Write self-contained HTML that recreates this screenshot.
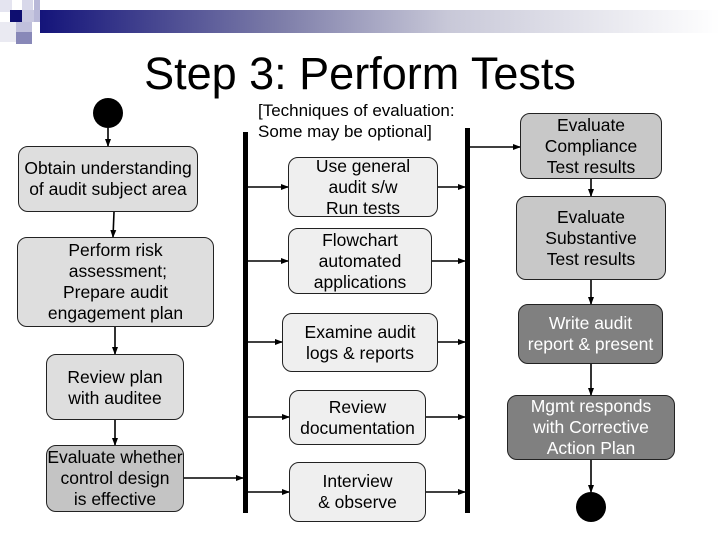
<!DOCTYPE html>
<html><head><style>
body{margin:0;width:720px;height:540px;background:#fff;position:relative;overflow:hidden;font-family:"Liberation Sans",Arial,sans-serif}
.b{position:absolute;border:1px solid #222;border-radius:10px;display:flex;align-items:center;justify-content:center;text-align:center;font-size:17.5px;line-height:21px;color:#000;box-sizing:border-box;background:#dedede;white-space:nowrap}
.m{background:#efefef}
.s{position:absolute}
</style></head><body>
<div class="s" style="left:40px;top:10px;width:680px;height:23px;background:linear-gradient(to right,#14147a,#7c7ca8 35%,#c8c8d8 60%,#fff 100%)"></div>
<div class="s" style="left:0;top:0;width:12px;height:12px;background:#e4e4f0"></div>
<div class="s" style="left:22px;top:0;width:11px;height:10px;background:#d8d8ea"></div>
<div class="s" style="left:10px;top:10px;width:12px;height:12px;background:#0e0e70"></div>
<div class="s" style="left:22px;top:10px;width:12px;height:12px;background:#c8c8e0"></div>
<div class="s" style="left:34px;top:0;width:6px;height:22px;background:#b8b8d8"></div>
<div class="s" style="left:0;top:22px;width:16px;height:20px;background:#eaeaf2"></div>
<div class="s" style="left:16px;top:22px;width:16px;height:10px;background:#c0c0dc"></div>
<div class="s" style="left:16px;top:32px;width:16px;height:12px;background:#8888b8"></div>
<div class="s" style="left:0;top:48px;width:720px;text-align:center;font-size:45px;line-height:52px">Step 3: Perform Tests</div>
<div class="s" style="left:258px;top:100px;font-size:17px;line-height:21px">[Techniques of evaluation:<br>Some may be optional]</div>
<svg class="s" style="left:0;top:0" width="720" height="540">
<defs><marker id="a" markerWidth="8" markerHeight="8" refX="7" refY="4" orient="auto" markerUnits="userSpaceOnUse"><path d="M0,1 L8,4 L0,7z" fill="#000"/></marker></defs>
<circle cx="108" cy="113" r="15" fill="#000"/>
<circle cx="591" cy="507" r="15" fill="#000"/>
<rect x="243" y="132" width="5" height="381" fill="#000"/>
<rect x="465" y="128" width="5" height="385" fill="#000"/>
<g stroke="#000" stroke-width="1.6" fill="none" marker-end="url(#a)">
<line x1="108" y1="128" x2="108" y2="146"/>
<line x1="114" y1="212" x2="113" y2="237"/>
<line x1="115" y1="327" x2="115" y2="354"/>
<line x1="115" y1="420" x2="115" y2="445"/>
<line x1="184" y1="478" x2="243" y2="478"/>
<line x1="248" y1="187" x2="288" y2="187"/>
<line x1="248" y1="261" x2="288" y2="261"/>
<line x1="248" y1="342" x2="282" y2="342"/>
<line x1="248" y1="417" x2="289" y2="417"/>
<line x1="248" y1="492" x2="289" y2="492"/>
<line x1="438" y1="187" x2="465" y2="187"/>
<line x1="432" y1="261" x2="465" y2="261"/>
<line x1="438" y1="342" x2="465" y2="342"/>
<line x1="426" y1="417" x2="465" y2="417"/>
<line x1="426" y1="492" x2="465" y2="492"/>
<line x1="470" y1="147" x2="520" y2="147"/>
<line x1="591" y1="179" x2="591" y2="196"/>
<line x1="591" y1="280" x2="591" y2="304"/>
<line x1="591" y1="364" x2="591" y2="395"/>
<line x1="591" y1="460" x2="591" y2="492"/>
</g>
</svg>
<div class="b" style="left:18px;top:146px;width:180px;height:66px">Obtain understanding<br>of audit subject area</div>
<div class="b" style="left:17px;top:237px;width:197px;height:90px">Perform risk<br>&nbsp;assessment;<br>Prepare audit<br>engagement plan</div>
<div class="b" style="left:46px;top:354px;width:138px;height:66px;align-items:flex-start;padding-top:12px">Review plan<br>with auditee</div>
<div class="b" style="left:46px;top:445px;width:138px;height:67px;background:#c4c4c4">Evaluate whether<br>control design<br>is effective</div>
<div class="b m" style="left:288px;top:157px;width:150px;height:60px">Use general<br>audit s/w<br>Run tests</div>
<div class="b m" style="left:288px;top:228px;width:144px;height:66px">Flowchart<br>automated<br>applications</div>
<div class="b m" style="left:282px;top:313px;width:156px;height:59px">Examine audit<br>logs &amp; reports</div>
<div class="b m" style="left:289px;top:390px;width:137px;height:55px">Review<br>documentation</div>
<div class="b m" style="left:289px;top:462px;width:137px;height:60px">Interview<br>&amp; observe</div>
<div class="b" style="left:520px;top:113px;width:142px;height:66px;background:#c8c8c8">Evaluate<br>Compliance<br>Test results</div>
<div class="b" style="left:516px;top:196px;width:150px;height:84px;background:#c8c8c8">Evaluate<br>Substantive<br>Test results</div>
<div class="b" style="left:518px;top:304px;width:145px;height:60px;background:#808080;color:#fff">Write audit<br>report &amp; present</div>
<div class="b" style="left:507px;top:395px;width:168px;height:65px;background:#808080;color:#fff">Mgmt responds<br>with Corrective<br>Action Plan</div>
</body></html>
